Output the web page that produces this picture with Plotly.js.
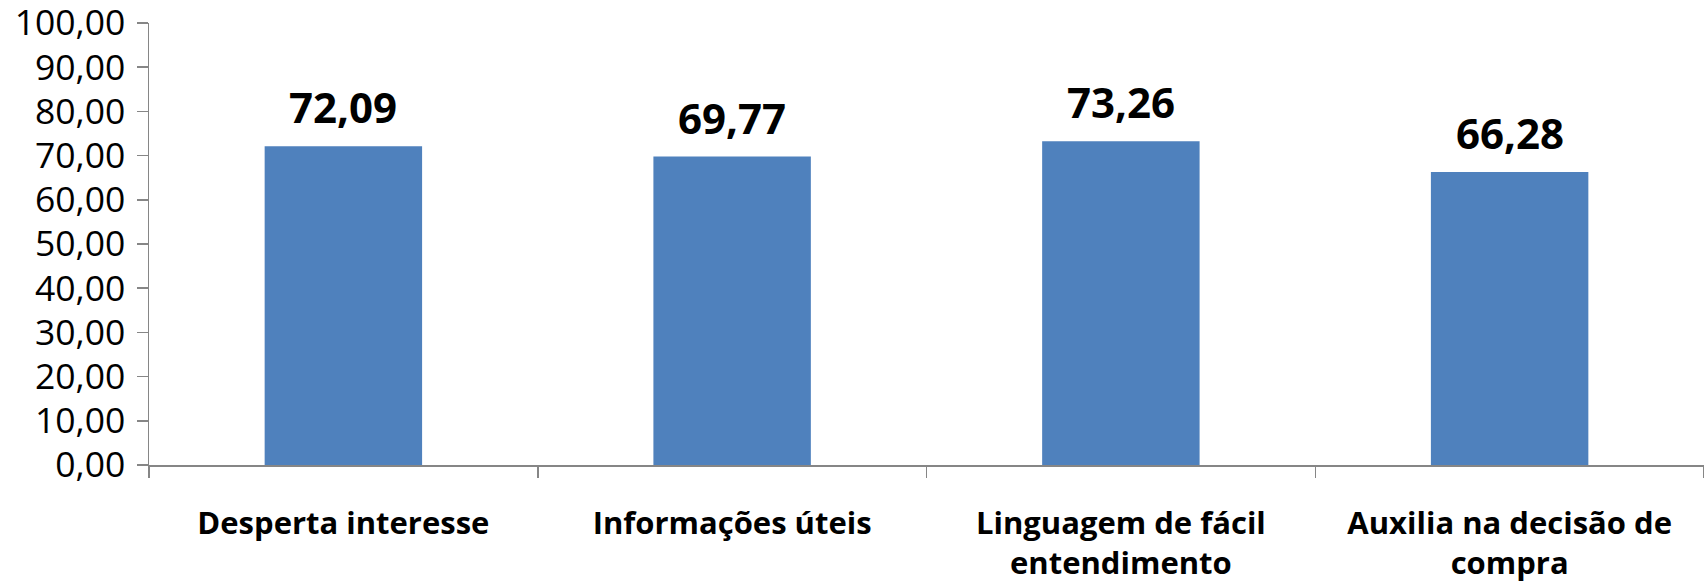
<!DOCTYPE html>
<html>
<head>
<meta charset="utf-8">
<script src="https://cdn.plot.ly/plotly-3.0.1.min.js"></script>
<style>html,body{margin:0;padding:0;background:#fff;}#chart{width:1704px;height:586px;}</style>
</head>
<body>
<div id="chart"></div>
<script>
var categories = ["Desperta interesse", "Informações úteis", "Linguagem de fácil<br>entendimento", "Auxilia na decisão de<br>compra"];
var values = [72.09, 69.77, 73.26, 66.28];
var yTicks = [0, 10, 20, 30, 40, 50, 60, 70, 80, 90, 100];

var FONT = "Open Sans, sans-serif";

var trace = {
  type: "bar",
  x: categories,
  y: values,
  marker: {color: "#4F81BD"},
  hoverinfo: "skip"
};

var annotations = categories.map(function (c, i) {
  return {
    x: c, y: values[i], xref: "x", yref: "y",
    text: "<b>" + values[i].toFixed(2).replace(".", ",") + "</b>",
    showarrow: false, yanchor: "bottom", yshift: 9,
    font: {family: FONT, size: 42, color: "#000"}
  };
});

var layout = {
  width: 1704, height: 586,
  margin: {l: 149, r: 0, t: 23, b: 121},
  paper_bgcolor: "#fff", plot_bgcolor: "#fff",
  separators: ",.",
  showlegend: false,
  bargap: 0.595,
  xaxis: {
    type: "category",
    showline: true, linecolor: "#868686", linewidth: 1.5,
    ticks: "outside", tickson: "boundaries", ticklen: 11, tickcolor: "#868686", tickwidth: 1.5,
    tickfont: {family: FONT, size: 31, color: "#000", weight: "bold"},
    ticklabelstandoff: 30,
    showgrid: false, zeroline: false, automargin: false
  },
  yaxis: {
    range: [0, 100.001], tickvals: yTicks, tickformat: ".2f",
    showline: true, linecolor: "#868686", linewidth: 1.5,
    ticks: "outside", ticklen: 11, tickcolor: "#868686", tickwidth: 1.5,
    tickfont: {family: FONT, size: 35.5, color: "#000"},
    ticklabeloverflow: "allow",
    showgrid: false, zeroline: false, automargin: false, ticklabelstandoff: 4
  },
  annotations: annotations
};

Plotly.newPlot("chart", [trace], layout, {displayModeBar: false, staticPlot: true});
</script>
</body>
</html>
